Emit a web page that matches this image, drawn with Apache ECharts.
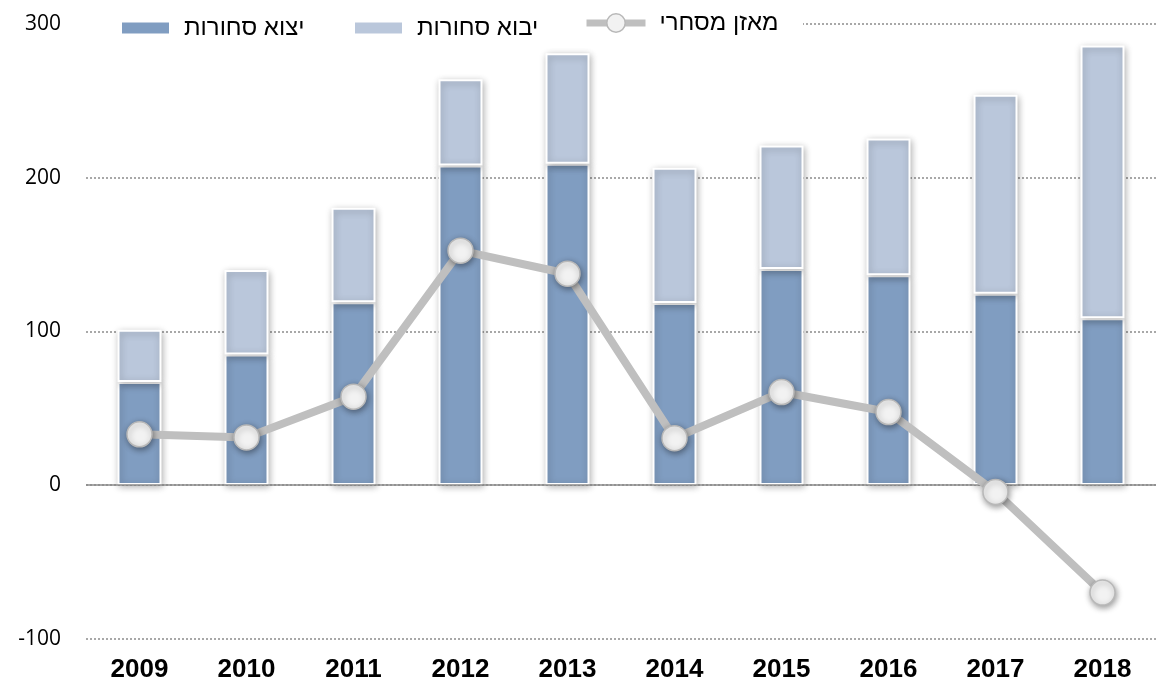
<!DOCTYPE html>
<html>
<head>
<meta charset="utf-8">
<script src="https://cdn.jsdelivr.net/npm/echarts@6/dist/echarts.min.js"></script>
<style>
  html, body { margin: 0; padding: 0; background: #fff; }
  #chart { width: 1156px; height: 686px; }
</style>
</head>
<body>
<div id="chart"></div>
<script>
// שנים
var years = ["2009", "2010", "2011", "2012", "2013", "2014", "2015", "2016", "2017", "2018"];
// יצוא סחורות
var exportsData = [67, 85, 119, 208, 209, 118.5, 140.5, 136.5, 124.5, 108.5];
// יבוא סחורות (מוערם מעל היצוא)
var importsData = [34, 55, 61.5, 56, 72, 88, 80.5, 89, 129.5, 177.5];
// מאזן מסחרי
var balanceData = [33, 31, 57.5, 152.5, 137.5, 30.5, 60.5, 47.5, -4.5, -70];

var yTicks = { min: -100, max: 300, interval: 100 };

var NAME_EXP = "יצוא סחורות";
var NAME_IMP = "יבוא סחורות";
var NAME_BAL = "מאזן מסחרי";

var legendText = {
  fontFamily: "Liberation Sans, DejaVu Sans, sans-serif",
  fontSize: 24,
  color: "#000",
  padding: [0, 0, 0, 9]
};

var chart = echarts.init(document.getElementById("chart"), null, { renderer: "canvas" });

var barShadow = {
  borderColor: "#fff",
  borderWidth: 2,
  shadowBlur: 7,
  shadowColor: "rgba(0,0,0,0.3)",
  shadowOffsetX: 1,
  shadowOffsetY: 2
};

var option = {
  backgroundColor: "#fff",
  animation: false,
  graphic: [{
    type: "rect",
    z: 1,
    shape: { x: 80, y: 6, width: 723, height: 38 },
    style: { fill: "#fff" },
    silent: true
  }],
  legend: [
    {
      left: 115, top: 11, padding: 5,
      data: [{ name: NAME_EXP, icon: "rect" }],
      itemWidth: 49, itemHeight: 13,
      textStyle: legendText
    },
    {
      left: 348, top: 11, padding: 5,
      data: [{ name: NAME_IMP, icon: "rect" }],
      itemWidth: 49, itemHeight: 13,
      textStyle: legendText
    },
    {
      left: 578, top: 6, padding: 5,
      data: [NAME_BAL],
      itemWidth: 59, itemHeight: 23,
      lineStyle: { width: 7, color: "#bfbfbf" },
      itemStyle: { color: "#f2f2f2", borderColor: "#b8b8b8", borderWidth: 1.5 },
      textStyle: legendText
    }
  ],
  grid: {
    left: 86,
    right: -5,
    top: 24,
    bottom: 47.3,
    containLabel: false
  },
  xAxis: {
    type: "category",
    data: years,
    axisLine: { show: false, onZero: false },
    axisTick: { show: false },
    axisLabel: {
      margin: 18,
      color: "#000",
      fontFamily: "Liberation Sans, Arial, sans-serif",
      fontWeight: "bold",
      fontSize: 26
    }
  },
  yAxis: {
    type: "value",
    min: yTicks.min,
    max: yTicks.max,
    interval: yTicks.interval,
    axisLine: { show: false },
    axisTick: { show: false },
    axisLabel: {
      margin: 25,
      color: "#000",
      fontFamily: "Open Sans, Liberation Sans, sans-serif",
      fontSize: 21
    },
    splitLine: {
      show: true,
      lineStyle: { color: "#8c8c8c", width: 1.5, type: [2, 2] }
    }
  },
  series: [
    {
      name: NAME_EXP,
      type: "bar",
      stack: "trade",
      barWidth: 44,
      data: exportsData,
      itemStyle: Object.assign({ color: "#809dc1" }, barShadow)
    },
    {
      name: NAME_IMP,
      type: "bar",
      stack: "trade",
      barWidth: 44,
      data: importsData,
      itemStyle: Object.assign({ color: "#bac7db" }, barShadow)
    },
    {
      name: NAME_BAL,
      type: "line",
      data: balanceData,
      z: 5,
      symbol: "circle",
      symbolSize: 25,
      lineStyle: { color: "#bfbfbf", width: 8 },
      itemStyle: {
        color: "#f2f2f2",
        borderColor: "#b8b8b8",
        borderWidth: 1.5,
        shadowBlur: 6,
        shadowColor: "rgba(0,0,0,0.4)",
        shadowOffsetX: 1,
        shadowOffsetY: 2
      },
      markLine: {
        silent: true,
        symbol: "none",
        label: { show: false },
        z: 3,
        lineStyle: { color: "#8a8a8a", width: 1.5, type: "solid" },
        data: [{ yAxis: 0 }]
      }
    }
  ]
};

chart.setOption(option);
</script>
</body>
</html>
